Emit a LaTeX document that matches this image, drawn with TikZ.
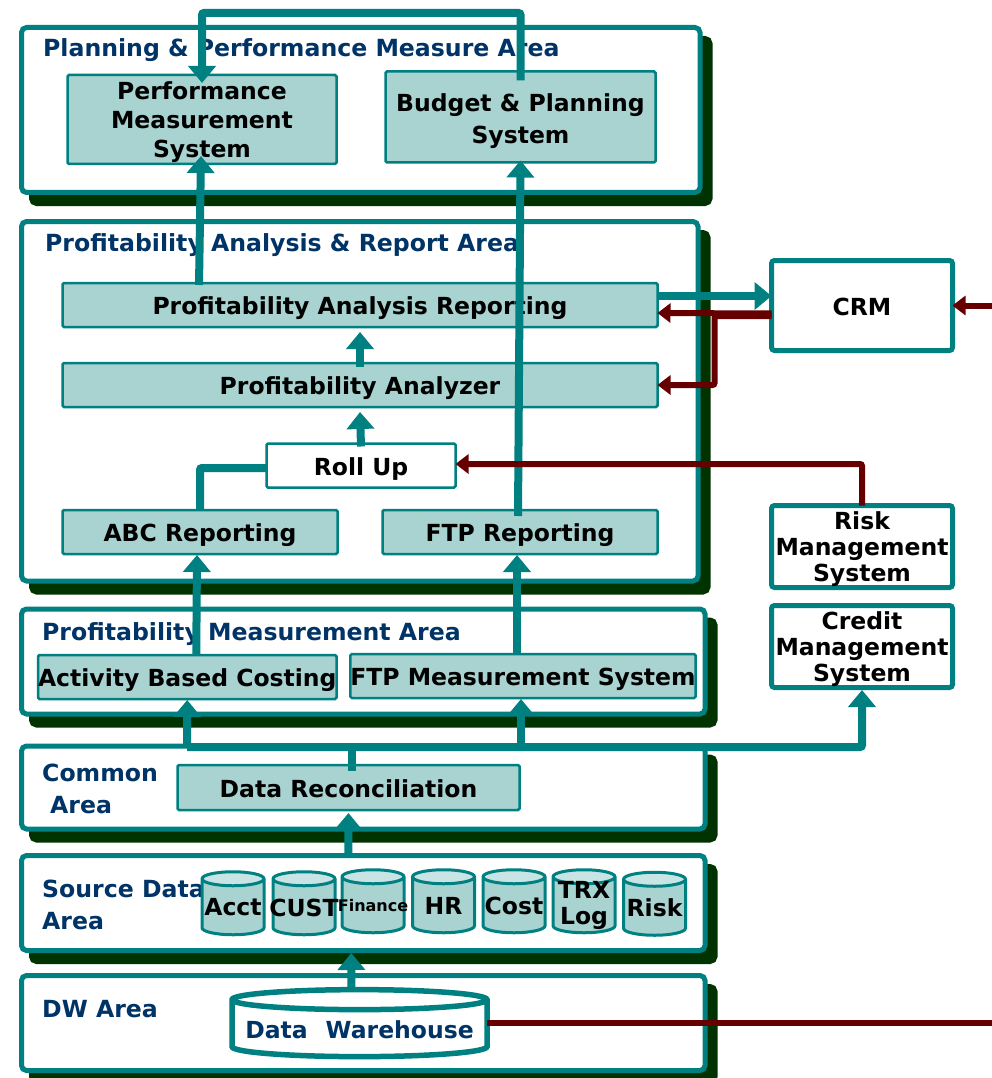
\documentclass[tikz,border=0pt]{standalone}
\usepackage{fontspec}
\setmainfont{DejaVu Sans}
\usepackage{tikz}
\usetikzlibrary{arrows.meta,positioning,calc,shapes.geometric,shadows}
\definecolor{tealc}{HTML}{008080}
\definecolor{boxc}{HTML}{A8D3D1}
\definecolor{capc}{HTML}{C9E4E4}
\definecolor{shadowc}{HTML}{003300}
\definecolor{navyc}{HTML}{003366}
\definecolor{redc}{HTML}{660000}
\tikzset{
  area/.style={draw=tealc,line width=5pt,fill=white,rounded corners=5pt,inner sep=0pt,outer sep=0pt,
    drop shadow={shadow xshift=10pt,shadow yshift=-11pt,fill=shadowc,draw=shadowc,opacity=1}},
  areatitle/.style={anchor=west,align=left,inner sep=0pt,text=navyc,font=\fontsize{23.6}{32}\selectfont\bfseries},
  sysbox/.style={draw=tealc,line width=2.5pt,fill=boxc,rounded corners=1.5pt,inner sep=0pt,outer sep=0pt,
    align=center,font=\fontsize{23.5}{29}\selectfont\bfseries},
  whitebox/.style={sysbox,fill=white},
  sidebox/.style={whitebox,line width=5pt,rounded corners=3pt,font=\fontsize{23.5}{26}\selectfont\bfseries},
  db/.style={shape=cylinder,shape border rotate=90,aspect=0.35,draw=tealc,line width=3pt,inner sep=0pt,outer sep=0pt,
    cylinder uses custom fill,cylinder body fill=boxc,cylinder end fill=capc,minimum width=62pt,minimum height=63pt},
  dbtext/.style={inner sep=0pt,align=center,font=\fontsize{23.5}{26}\selectfont\bfseries},
  tealline/.style={draw=tealc,line width=8pt,rounded corners=2pt},
  tealarrow/.style={tealline,-{Triangle[width=27pt,length=17pt]}},
  redline/.style={draw=redc,line width=6pt,rounded corners=2pt},
  redarrow/.style={redline,-{Triangle[width=19pt,length=13pt]}}
}
\newcommand{\dbgap}{\rule{40pt}{0pt}\rule{0pt}{30pt}}
\newcommand{\lift}[1]{\rule{0pt}{#1pt}}
\begin{document}
\begin{tikzpicture}[x=1pt,y=-1pt]
    \useasboundingbox (0,0) rectangle (992,1078);
    % Areas
    \node[area,minimum width=678.5pt,minimum height=165pt] (plan) at (360.75,110) {};
    \node[area,minimum width=676.5pt,minimum height=359.5pt] (report) at (359.75,401.25) {};
    \node[area,minimum width=683.5pt,minimum height=105pt] (measure) at (363.25,661.5) {};
    \node[area,minimum width=683.5pt,minimum height=83pt] (common) at (363.25,787.5) {};
    \node[area,minimum width=683.5pt,minimum height=95pt] (source) at (363.25,903) {};
    \node[area,minimum width=683.5pt,minimum height=95pt] (dw) at (363.25,1023) {};
    \node[areatitle] (plantitle) at (43,50) {Planning \& Performance Measure Area};
    \node[areatitle] (reporttitle) at (45,245) {Profitability Analysis \& Report Area};
    \node[areatitle] (measuretitle) at (42,634) {Profitability Measurement Area};
    \node[areatitle] (commontitle) at (42,789) {Common\\\hspace{8pt}Area};
    \node[areatitle] (sourcetitle) at (42,905) {Source Data\\Area};
    \node[areatitle] (dwtitle) at (42,1009) {DW Area};
    % Systems
    \node[sysbox,minimum width=269pt,minimum height=89pt] (pms) at (202,119.5) {\lift{24}Performance\\Measurement\\System};
    \node[sysbox,minimum width=270pt,minimum height=91pt,font=\fontsize{23.5}{32}\selectfont\bfseries] (bps) at (520.5,117) {\lift{26}Budget \& Planning\\System};
    \node[sysbox,minimum width=595pt,minimum height=44pt] (par) at (360,305) {\lift{24}Profitability Analysis Reporting};
    \node[sysbox,minimum width=595pt,minimum height=44pt,below=36pt of par] (pa) {\lift{24}Profitability Analyzer};
    \node[whitebox,minimum width=189pt,minimum height=44pt] (roll) at (361,465.5) {\lift{24}Roll Up};
    \node[sysbox,minimum width=275pt,minimum height=44pt] (abc) at (200,532) {\lift{24}ABC Reporting};
    \node[sysbox,minimum width=275pt,minimum height=44pt,right=45pt of abc] (ftpr) {\lift{24}FTP Reporting};
    \node[sysbox,minimum width=298.5pt,minimum height=44pt] (abcost) at (187.25,677) {\lift{24}Activity Based Costing};
    \node[sysbox,minimum width=343pt,minimum height=44pt] (ftpm) at (523,676) {\lift{24}FTP Measurement System};
    \node[sysbox,minimum width=342pt,minimum height=45pt] (recon) at (348.5,787.5) {\lift{20}Data Reconciliation};
    \node[sidebox,minimum width=181pt,minimum height=90pt] (crm) at (862,305.5) {\lift{21}CRM};
    \node[sidebox,minimum width=181pt,minimum height=82pt] (risk) at (862,546.5) {\lift{24}Risk\\Management\\System};
    \node[sidebox,minimum width=181pt,minimum height=82pt,below=18pt of risk] (credit) {\lift{24}Credit\\Management\\System};
    % Source data
    \node[db,label={[dbtext]center:Acct}] (acct) at (233,907.5) {\dbgap};
    \node[db,label={[dbtext]center:CUST}] (cust) at (304,907.5) {\dbgap};
    \node[db,label={[dbtext,font=\fontsize{16}{18}\selectfont\bfseries]center:Finance}] (fin) at (373,905.5) {\dbgap};
    \node[db,label={[dbtext]center:HR}] (hr) at (443.5,905.5) {\dbgap};
    \node[db,label={[dbtext]center:Cost}] (cost) at (514,905.5) {\dbgap};
    \node[db,label={[dbtext]center:TRX\\Log}] (trx) at (584,905.5) {\dbgap};
    \node[db,label={[dbtext]center:Risk}] (riskdb) at (654.5,908) {\dbgap};
    \node[db,line width=5.5pt,minimum width=255pt,minimum height=67pt,aspect=0.1,cylinder body fill=white,cylinder end fill=white,
      label={[dbtext,text=navyc]center:Data\hspace{18pt}Warehouse}] (dwh) at (359.5,1029.5) {\rule{200pt}{0pt}\rule{0pt}{30pt}};
    % Connectors
    \coordinate (topbus) at (360,13);
    \coordinate (bus) at (187,747);
    \coordinate (crmin) at (992,305.5);
    \coordinate (dwout) at (992,1023);
    \draw[tealarrow] ([yshift=-9pt]bps.north) |- (topbus) -| ([yshift=-8pt]pms.north);
    \draw[tealarrow] ([xshift=-161pt,yshift=-2pt]par.north) -- ([xshift=-1pt,yshift=8pt]pms.south);
    \draw[tealarrow] ([xshift=-2pt,yshift=-6pt]ftpr.north) -- ([yshift=2pt]bps.south);
    \draw[tealarrow] ([yshift=-4pt]pa.north) -- ([yshift=-5pt]par.south);
    \draw[tealarrow] ([yshift=-3pt]roll.north) -- ([yshift=-5pt]pa.south);
    \draw[tealline] (abc.north) |- ([yshift=-2.5pt]roll.west);
    \draw[tealarrow] ([xshift=9pt]abcost.north) -- ([xshift=-3pt,yshift=-1pt]abc.south);
    \draw[tealarrow] ([xshift=-6pt]ftpm.north) -- ([xshift=-3pt,yshift=-1pt]ftpr.south);
    \draw[tealline] ([xshift=3pt,yshift=-6pt]recon.north) -- ([xshift=3pt]recon.north |- bus);
    \draw[tealarrow] (bus) -- ([yshift=-1pt]abcost.south);
    \draw[tealarrow] (bus -| ftpm.south) ++(-2,0) -- ([xshift=-2pt,yshift=-1pt]ftpm.south);
    \draw[tealarrow] (bus) -| ([yshift=-2.5pt]credit.south);
    \draw[tealarrow] ([xshift=-15pt]source.north) -- ([yshift=-3pt]recon.south);
    \draw[tealarrow] ([xshift=-8pt]dwh.north) -- ([xshift=-12pt,yshift=-2.5pt]source.south);
    \draw[tealarrow] ([yshift=9pt]par.east) -- ([yshift=9.5pt]crm.west);
    \draw[redarrow] ([yshift=-8pt]crm.west) -- ([yshift=-8pt]par.east);
    \draw[redarrow] ([yshift=-10.5pt]crm.west) -- ++(-57,0) |- (pa.east);
    \draw[redarrow] (risk.north) |- ([yshift=1.5pt]roll.east);
    \draw[redarrow] (crmin) -- (crm.east);
    \draw[redline] (dwh.east |- dwout) -- (dwout);
\end{tikzpicture}
\end{document}
